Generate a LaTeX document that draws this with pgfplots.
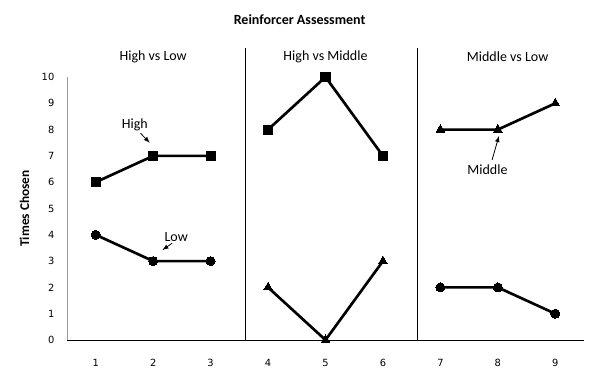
\documentclass[border=0pt]{standalone}
\usepackage{pgfplots}
\pgfplotsset{compat=1.18}
\usepackage{fontspec}
\setmainfont{Carlito}
\newfontfamily\tickfont{DejaVu Sans}
\begin{document}
\begin{tikzpicture}[x=1pt,y=1pt]
\useasboundingbox (-50.25,-29.25) rectangle (399.75,255);
\begin{axis}[
  at={(0,0)}, anchor=south west,
  scale only axis, width=387.75pt, height=197.25pt,
  xmin=0.5, xmax=9.5, ymin=0, ymax=10,
  axis x line=bottom, axis y line=left,
  axis line style={-},
  y axis line style={draw=gray!80},
  x axis line style={draw=black, line width=0.6pt},
  xtick={1,...,9}, ytick={0,...,10},
  major tick length=0pt,
  tick label style={font=\tickfont\fontsize{7.4}{8}\selectfont},
  /pgf/number format/assume math mode=true,
  xticklabel style={yshift=-11pt},
  yticklabel style={xshift=-6pt},
  clip=false,
  every axis plot/.append style={black, line width=2pt},
]
% High (squares)
\addplot[mark=square*, mark size=3.4pt, mark options={solid, line width=0pt}] coordinates {(1,6) (2,7) (3,7)};
\addplot[mark=square*, mark size=3.4pt, mark options={solid, line width=0pt}] coordinates {(4,8) (5,10) (6,7)};
% Low (circles)
\addplot[mark=*, mark size=3.4pt, mark options={line width=0pt}] coordinates {(1,4) (2,3) (3,3)};
\addplot[mark=*, mark size=3.4pt, mark options={line width=0pt}] coordinates {(7,2) (8,2) (9,1)};
% Middle (triangles)
\addplot[mark=triangle*, mark size=3.8pt, mark options={line width=0pt}] coordinates {(4,2) (5,0) (6,3)};
\addplot[mark=triangle*, mark size=3.8pt, mark options={line width=0pt}] coordinates {(7,8) (8,8) (9,9)};
% separators
\draw[black, line width=0.6pt] (axis cs:3.6,0) -- (axis cs:3.6,11.1);
\draw[black, line width=0.6pt] (axis cs:6.6,0) -- (axis cs:6.6,11.1);
% section labels
\node[font=\fontsize{10.5}{12}\selectfont] at (axis cs:2,10.78) {High vs Low};
\node[font=\fontsize{10.5}{12}\selectfont] at (axis cs:5,10.78) {High vs Middle};
\node[font=\fontsize{10.5}{12}\selectfont] at (axis cs:8.17,10.78) {Middle vs Low};
% annotations
\node[font=\fontsize{10.5}{12}\selectfont] at (axis cs:1.68,8.17) {High};
\draw[-latex, line width=0.6pt] (axis cs:1.78,7.86) -- (axis cs:1.94,7.5);
\node[font=\fontsize{10.5}{12}\selectfont] at (axis cs:2.4,3.9) {Low};
\draw[-latex, line width=0.6pt] (axis cs:2.33,3.68) -- (axis cs:2.16,3.42);
\node[font=\fontsize{10.5}{12}\selectfont] at (axis cs:7.82,6.46) {Middle};
\draw[-latex, line width=0.6pt] (axis cs:7.9,6.85) -- (axis cs:8.02,7.76);
% title and y label
\node[font=\bfseries\fontsize{10.5}{12}\selectfont] at (axis cs:4.55,12.17) {Reinforcer Assessment};
\node[font=\bfseries\fontsize{10}{12}\selectfont, rotate=90] at (axis cs:-0.24,5) {Times Chosen};
\end{axis}
\end{tikzpicture}
\end{document}
